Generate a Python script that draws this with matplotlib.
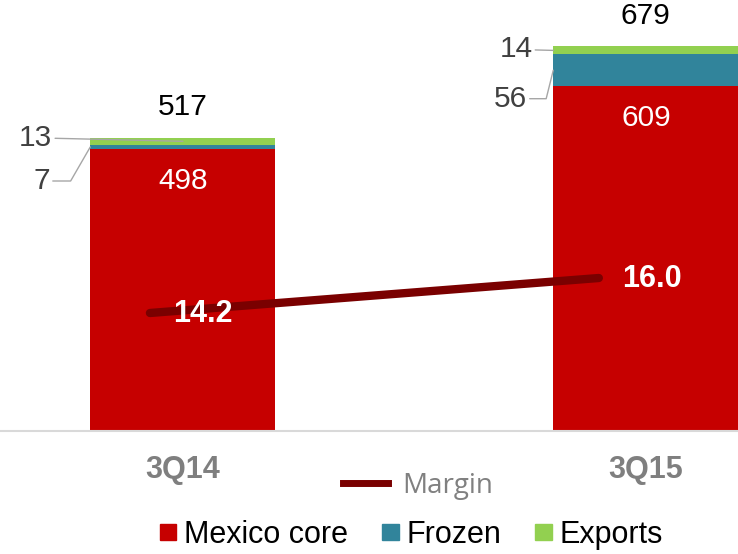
import matplotlib
matplotlib.use('Agg')
import matplotlib.pyplot as plt
from matplotlib.patches import Patch
from matplotlib.lines import Line2D
import numpy as np

quarters = ['3Q14', '3Q15']
mexico_core = [498, 609]
frozen = [7, 56]
exports = [13, 14]
totals = [517, 679]
margin = [14.2, 16.0]

RED = '#C60000'
TEAL = '#31849B'
GREEN = '#92D050'
MARGIN_C = '#7A0000'

plt.rcParams['font.family'] = ['Liberation Sans', 'DejaVu Sans']

fig = plt.figure(figsize=(7.38, 5.54), dpi=100)
ax = fig.add_axes([0, 1 - 431 / 554, 1, 431 / 554])

x = np.arange(len(quarters))
w = 0.40
ax.bar(x, mexico_core, w, color=RED)
ax.bar(x, frozen, w, bottom=mexico_core, color=TEAL)
bot2 = np.array(mexico_core) + np.array(frozen)
ax.bar(x, exports, w, bottom=bot2, color=GREEN)

ax.set_xlim(-0.395, 1.199)
ax.set_ylim(0, 761)
for s in ['left', 'right', 'top']:
    ax.spines[s].set_visible(False)
ax.spines['bottom'].set_color('#D9D9D9')
ax.spines['bottom'].set_linewidth(1.5)
ax.set_yticks([])
ax.set_xticks(x)
ax.set_xticklabels(quarters, fontsize=22, fontweight='bold', color='#7F7F7F')
ax.tick_params(axis='x', length=0, pad=17)

# totals above the stacks, core values inside the red segment
for i in range(len(x)):
    top = mexico_core[i] + frozen[i] + exports[i]
    ax.annotate(str(totals[i]), (x[i], top), xytext=(0, 22), textcoords='offset points',
                ha='center', va='center', fontsize=21.5, color='black')
    ax.annotate(str(mexico_core[i]), (x[i], mexico_core[i]), xytext=(0, -23),
                textcoords='offset points', ha='center', va='center', fontsize=21.5, color='white')

# callouts for the thin segments
lead = dict(arrowstyle='-', color='#A6A6A6', lw=1, shrinkA=0, shrinkB=0)
callouts = [
    (exports[0], (x[0], bot2[0] + exports[0] / 2), (-94, 2.5), 'arc3,rad=0'),
    (frozen[0], (x[0] - w / 2, mexico_core[0] + frozen[0] / 2), (-29, -24.5), 'angle,angleA=0,angleB=60,rad=0'),
    (exports[1], (x[1] - w / 2, bot2[1] + exports[1] / 2), (-15, 0.7), 'arc3,rad=0'),
    (frozen[1], (x[1] - w / 2, mexico_core[1] + frozen[1] / 2), (-19, -20.5), 'angle,angleA=0,angleB=76,rad=0'),
]
for val, xy, off, cs in callouts:
    ax.annotate(str(val), xy, xytext=off, textcoords='offset points', ha='right', va='center',
                fontsize=21.5, color='#404040', arrowprops=dict(lead, connectionstyle=cs))

# margin line on its own scale
ax2 = fig.add_axes(ax.get_position(), frameon=False)
ax2.set_xlim(-0.334, 1.310)
ax2.set_ylim(8.13, 30.3)
ax2.axis('off')
ax2.plot(x, margin, color=MARGIN_C, lw=6, solid_capstyle='round')
for i in range(len(x)):
    ax2.annotate(f'{margin[i]:.1f}', (x[i], margin[i]), xytext=(38, -1), textcoords='offset points',
                 ha='center', va='center', fontsize=22, fontweight='bold', color='white')

leg1 = fig.legend([Line2D([], [], color=MARGIN_C, lw=5)], ['Margin'], loc='center',
                  bbox_to_anchor=(418 / 738, 1 - 486 / 554), frameon=False, handlelength=1.62,
                  handletextpad=0.5, prop={'family': 'Open Sans', 'size': 20})
for t in leg1.get_texts():
    t.set_color('#808080')

handles = [Patch(color=RED), Patch(color=TEAL), Patch(color=GREEN)]
fig.legend(handles, ['Mexico core', 'Frozen', 'Exports'], loc='center', ncol=3,
           bbox_to_anchor=(411.5 / 738, 1 - 535 / 554), frameon=False, fontsize=22,
           handlelength=0.55, handleheight=0.45, handletextpad=0.26, columnspacing=1.1)

fig.savefig('out.png', dpi=100)
